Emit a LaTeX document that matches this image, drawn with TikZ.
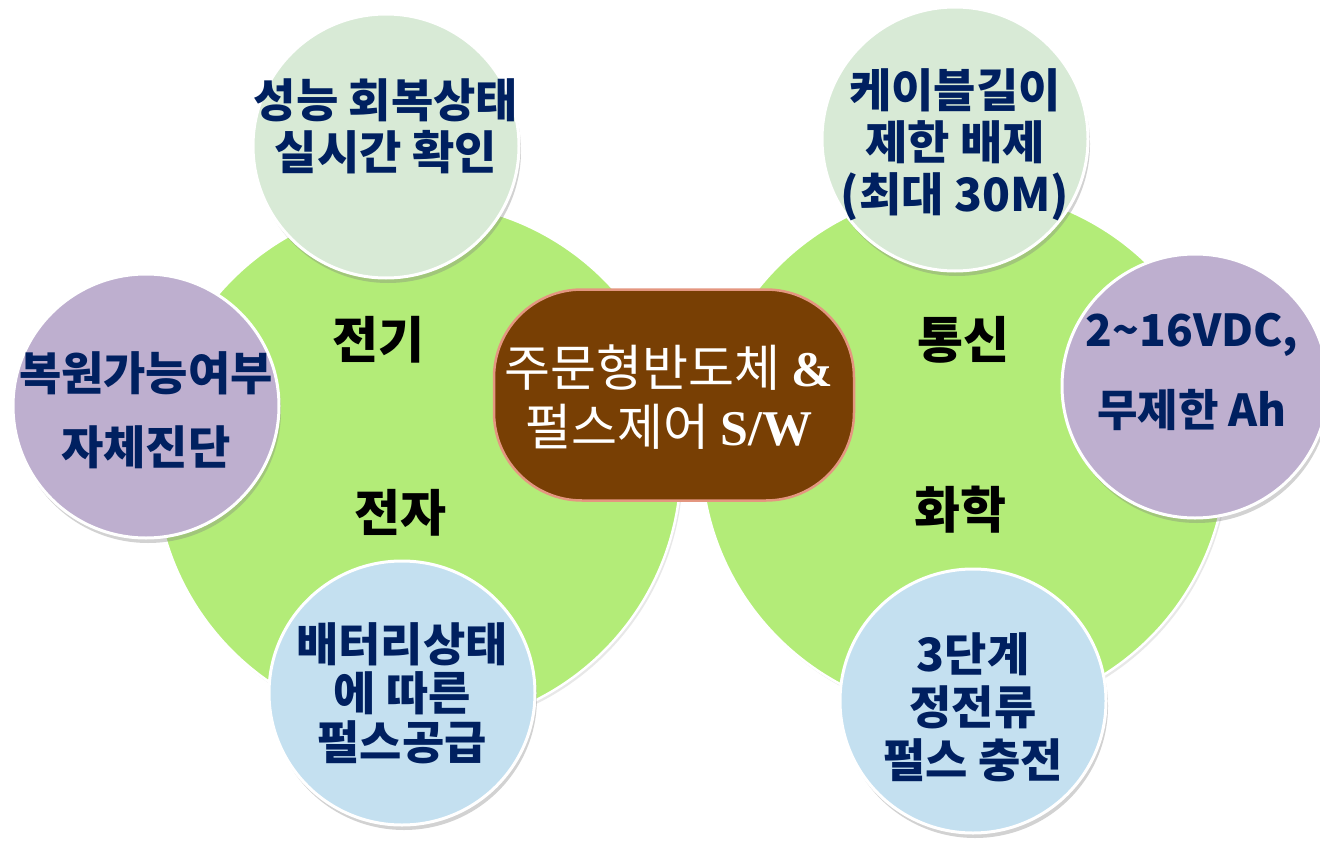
\documentclass[tikz,border=0pt]{standalone}
\usepackage{fontspec}
\newfontfamily\kr{Noto Sans CJK KR}
\newfontfamily\tnr{Liberation Serif}
\usetikzlibrary{shapes.geometric,shadows}
\definecolor{grn}{RGB}{179,236,120}
\definecolor{palegrn}{RGB}{216,234,214}
\definecolor{lilac}{RGB}{190,175,207}
\definecolor{paleblue}{RGB}{196,224,240}
\definecolor{navy}{RGB}{0,32,96}
\definecolor{brn}{RGB}{120,63,4}
\definecolor{pinkline}{RGB}{228,150,128}
\begin{document}
\begin{tikzpicture}[x=1pt,y=-1pt,
  big/.style={circle, fill=grn, draw=white, line width=2.5pt, minimum size=526pt, inner sep=0pt,
    drop shadow={opacity=0.18, shadow xshift=2pt, shadow yshift=-3pt}},
  bub/.style={ellipse, draw=white, line width=3pt, inner sep=0pt, minimum width=266pt, minimum height=264pt,
    drop shadow={opacity=0.35, shadow xshift=2pt, shadow yshift=-5pt}},
  btext/.style={text=navy, align=center, inner sep=0pt},
  lab/.style={font=\kr\bfseries\fontsize{50}{56}\selectfont, text=black, inner sep=0pt},
]
\useasboundingbox (0,0) rectangle (1320,843);
\fill[white] (0,0) rectangle (1320,843);

% big green circles
\node[big] (lc) at (418,465) {};
\node[big] (rc) at (964,452) {};

% labels in green circles
\node[lab] (l1) at (378,340) {전기};
\node[lab] (l2) at (400,513) {전자};
\node[lab] (l3) at (963,340) {통신};
\node[lab] (l4) at (960,510) {화학};

% bubbles
\node[bub, fill=palegrn] (tl) at (386,146) {};
\node[bub, fill=lilac] (ml) at (146,406) {};
\node[bub, fill=paleblue] (bl) at (402,693) {};
\node[bub, fill=palegrn] (tr) at (955,139) {};
\node[bub, fill=lilac] (mr) at (1195,386) {};
\node[bub, fill=paleblue] (br) at (973,701) {};

\node[btext, font=\kr\bfseries\fontsize{46}{52}\selectfont] (tlt) at (386,126) {성능 회복상태\\실시간 확인};
\node[btext, font=\kr\bfseries\fontsize{46}{74}\selectfont] (mlt) at (146,410) {복원가능여부\\자체진단};
\node[btext, font=\kr\bfseries\fontsize{46}{49}\selectfont] (blt) at (402,693) {배터리상태\\에 따른\\펄스공급};
\node[btext, font=\kr\bfseries\fontsize{46}{52}\selectfont] (trt) at (955,145) {케이블길이\\제한 배제\\(최대 30M)};
\node[btext, font=\kr\bfseries\fontsize{44}{80}\selectfont] (mrt) at (1192,372) {2\textasciitilde16VDC,\\무제한 Ah};
\node[btext, font=\kr\bfseries\fontsize{46}{53}\selectfont] (brt) at (973,707) {3단계\\정전류\\펄스 충전};

% centre box
\node[rectangle, rounded corners=88pt, fill=brn, draw=pinkline, line width=2.5pt,
  minimum width=360pt, minimum height=211pt, inner sep=0pt] (core) at (674,395) {};
\node[text=white, align=center, inner sep=0pt, font=\kr\fontsize{50}{59}\selectfont] (coret) at (669,397)
  {주문형반도체 {\tnr\bfseries\&}\\펄스제어 {\tnr\bfseries S/W}};
\end{tikzpicture}
\end{document}
